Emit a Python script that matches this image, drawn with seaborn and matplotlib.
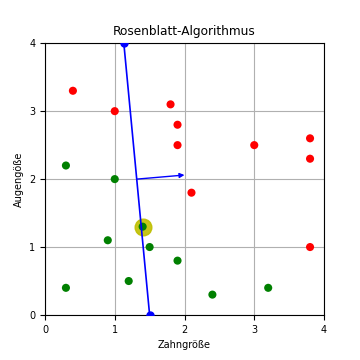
import numpy as np
import pandas as pd
import seaborn as sns
import matplotlib
matplotlib.use('Agg')
import matplotlib.pyplot as plt

# Klasse 1 (rot) und Klasse 0 (grün)
red_x = [0.4, 1.0, 1.8, 1.9, 1.9, 3.0, 3.8, 3.8, 2.1, 3.8]
red_y = [3.3, 3.0, 3.1, 2.8, 2.5, 2.5, 2.6, 2.3, 1.8, 1.0]
green_x = [0.3, 1.0, 0.9, 1.4, 1.5, 1.9, 1.2, 0.3, 2.4, 3.2]
green_y = [2.2, 2.0, 1.1, 1.3, 1.0, 0.8, 0.5, 0.4, 0.3, 0.4]

# aktuell betrachteter Punkt
highlight = (1.4, 1.3)

# Trenngerade und Normalenvektor
line_x = [1.13, 1.5]
line_y = [4.0, 0.0]
arrow_start = (1.32, 2.0)
arrow_end = (2.0, 2.06)

df = pd.DataFrame({
    'x': red_x + green_x,
    'y': red_y + green_y,
    'klasse': ['rot'] * len(red_x) + ['gruen'] * len(green_x),
})

fig, ax = plt.subplots(figsize=(3.6, 3.6), dpi=100)
fig.subplots_adjust(left=0.125, right=0.9, bottom=0.125, top=0.88)

ax.plot(*highlight, 'o', color='y', markersize=12, alpha=0.9, zorder=2)
sns.scatterplot(x='x', y='y', data=df, hue='klasse', palette={'rot': 'red', 'gruen': 'green'},
                s=34, edgecolor='none', legend=False, ax=ax, zorder=3)

ax.plot(line_x, line_y, 'o-', color='blue', markersize=5, linewidth=1.2, zorder=4)
ax.annotate('', xy=arrow_end, xytext=arrow_start,
            arrowprops=dict(arrowstyle='-|>', color='blue', lw=1.0, mutation_scale=7,
                            shrinkA=0, shrinkB=0), zorder=4)

ax.set_xlim(0, 4)
ax.set_ylim(0, 4)
ax.set_xticks([0, 1, 2, 3, 4])
ax.set_yticks([0, 1, 2, 3, 4])
ax.grid(True, color='#b0b0b0', linewidth=0.8)
ax.set_axisbelow(True)
ax.tick_params(labelsize=7, length=3.5, width=0.8)

ax.set_title('Rosenblatt-Algorithmus', fontsize=8.7)
ax.set_xlabel('Zahngröße', fontsize=7)
ax.set_ylabel('Augengöße', fontsize=7)

fig.savefig('out.png', dpi=100)
